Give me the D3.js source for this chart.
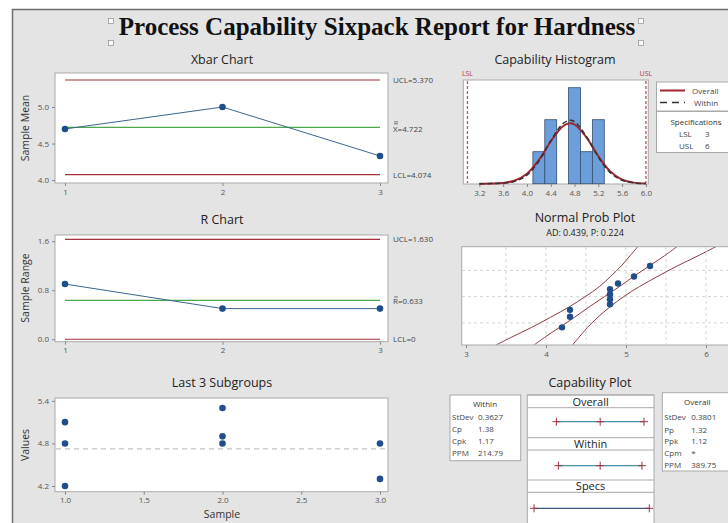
<!DOCTYPE html>
<html>
<head>
<meta charset="utf-8">
<script src="https://cdn.jsdelivr.net/npm/d3@7"></script>
<style>
  body { margin: 0; background: #fff; }
  svg { display: block; font-family: "Open Sans", "Noto Sans", sans-serif; }
</style>
</head>
<body>
<script>
// ---- data ----
const subgroups = [1, 2, 3];
const xbarMeans = [4.70, 5.00, 4.33];
const xbarLimits = { ucl: 5.370, center: 4.722, lcl: 4.074 };
const ranges = [0.90, 0.50, 0.50];
const rLimits = { ucl: 1.630, center: 0.633, lcl: 0 };

const lastSample = [1, 1, 1, 2, 2, 2, 3, 3];
const lastValue  = [4.2, 4.8, 5.1, 4.8, 4.9, 5.3, 4.3, 4.8];

const binStart = [4.1, 4.3, 4.7, 4.9, 5.1];
const binEnd   = [4.3, 4.5, 4.9, 5.1, 5.3];
const binCount = [1, 2, 3, 1, 2];
const curveX       = [3.2, 3.4, 3.6, 3.8, 4.0, 4.2, 4.4, 4.6, 4.72, 4.8, 5.0, 5.2, 5.4, 5.6, 5.8, 6.0];
const overallCurve = [0.00, 0.005, 0.024, 0.10, 0.31, 0.74, 1.32, 1.79, 1.89, 1.85, 1.45, 0.86, 0.385, 0.13, 0.034, 0.007];
const withinCurve  = [0.00, 0.003, 0.017, 0.078, 0.27, 0.70, 1.34, 1.87, 1.98, 1.94, 1.48, 0.83, 0.345, 0.106, 0.024, 0.004];
const specs = { lsl: 3, usl: 6 };

const probValues   = [4.2, 4.3, 4.3, 4.8, 4.8, 4.8, 4.8, 4.9, 5.1, 5.3];
const probPercents = [6.7, 16.3, 26.0, 35.6, 45.2, 54.8, 64.4, 74.0, 83.7, 93.3];
const bandPercents = [0.7, 2.3, 6.7, 15.9, 30.9, 50, 69.1, 84.1, 93.3, 97.7, 99.3];
const bandLower    = [3.33, 3.56, 3.82, 4.06, 4.29, 4.49, 4.67, 4.81, 4.94, 5.05, 5.15];
const bandCenter   = [3.82, 3.98, 4.17, 4.36, 4.54, 4.73, 4.92, 5.10, 5.29, 5.48, 5.64];
const bandUpper    = [4.31, 4.41, 4.52, 4.65, 4.80, 4.97, 5.17, 5.40, 5.64, 5.90, 6.13];
const gridPercents = [10, 50, 90];

const withinLabels  = ["StDev", "Cp", "Cpk", "PPM"];
const withinValues  = ["0.3627", "1.38", "1.17", "214.79"];
const overallLabels = ["StDev", "Pp", "Ppk", "Cpm", "PPM"];
const overallValues = ["0.3801", "1.32", "1.12", "*", "389.75"];
const capNames = ["Overall", "Within", "Specs"];
const capTicks = [[3.582, 4.722, 5.862], [3.634, 4.722, 5.810], [3, 6]];

// ---- page ----
const width = 728, height = 523;
const svg = d3.select("body").append("svg").attr("width", width).attr("height", height);

const BG = "#e4e4e4", FRAME = "#a9a9a9", TXT = "#222", TICK = "#555";
const RED = "#a3303a", GREEN = "#4aa84a", DOT = "#1f4e8d", LINE = "#3a6690";

svg.append("rect").attr("x", 12.5).attr("y", 9.5).attr("width", 740).attr("height", 540)
   .attr("fill", BG).attr("stroke", "#6e6e6e").attr("stroke-width", 1.5);

// title + selection handles
svg.append("text").attr("x", 377).attr("y", 35).attr("text-anchor", "middle")
   .attr("font-family", "'Liberation Serif', 'Times New Roman', serif")
   .attr("font-weight", "bold").attr("font-size", 25).attr("fill", "#111")
   .text("Process Capability Sixpack Report for Hardness");
[[111, 21], [111, 43], [641, 21], [641, 43]].forEach(function (p) {
  svg.append("rect").attr("x", p[0] - 2.5).attr("y", p[1] - 2.5).attr("width", 5).attr("height", 5)
     .attr("fill", "#fafafa").attr("stroke", "#999").attr("stroke-width", 0.8);
});

function frame(x0, y0, x1, y1) {
  svg.append("rect").attr("x", x0).attr("y", y0).attr("width", x1 - x0).attr("height", y1 - y0)
     .attr("fill", "#fff").attr("stroke", FRAME).attr("stroke-width", 1);
}
function title(x, y, t, size) {
  svg.append("text").attr("x", x).attr("y", y).attr("text-anchor", "middle")
     .attr("font-size", size || 12.5).attr("fill", TXT).text(t);
}
function styleAxis(g) {
  g.select(".domain").remove();
  g.selectAll(".tick line").attr("stroke", "#888");
  g.selectAll(".tick text").attr("fill", TICK).attr("font-size", 8)
   .attr("font-family", "'Open Sans', sans-serif");
}
function yLabel(x, y, t) {
  svg.append("text").attr("transform", "translate(" + x + "," + y + ") rotate(-90)")
     .attr("text-anchor", "middle").attr("font-size", 10.5).attr("fill", "#333").text(t);
}
function sideLabel(x, y, t) {
  svg.append("text").attr("x", x).attr("y", y).attr("font-size", 8).attr("fill", "#444").text(t);
}
function bar(x, y, w) {
  svg.append("line").attr("x1", x).attr("x2", x + w).attr("y1", y).attr("y2", y)
     .attr("stroke", "#444").attr("stroke-width", 0.7);
}

// ---- Xbar chart ----
const xs = d3.scaleLinear().domain([1, 3]).range([65, 380]);
const yXbar = d3.scaleLinear().domain([3.96, 5.466]).range([183, 73]);
title(222, 64, "Xbar Chart");
frame(55, 73, 388, 183);
svg.append("g").attr("transform", "translate(55,0)")
   .call(d3.axisLeft(yXbar).tickValues([4.0, 4.5, 5.0]).tickFormat(d3.format(".1f")).tickSize(3)).call(styleAxis);
svg.append("g").attr("transform", "translate(0,183)")
   .call(d3.axisBottom(xs).tickValues(subgroups).tickFormat(d3.format("d")).tickSize(3)).call(styleAxis);
yLabel(29, 128, "Sample Mean");

function controlLines(ys, lim) {
  [["ucl", RED], ["lcl", RED], ["center", GREEN]].forEach(function (k) {
    svg.append("line").attr("x1", xs(1)).attr("x2", xs(3))
       .attr("y1", ys(lim[k[0]])).attr("y2", ys(lim[k[0]]))
       .attr("stroke", k[1]).attr("stroke-width", 1.2);
  });
}
function series(ys, vals) {
  svg.append("path").datum(vals)
     .attr("d", d3.line().x(function (d, i) { return xs(subgroups[i]); }).y(function (d) { return ys(d); }))
     .attr("fill", "none").attr("stroke", LINE).attr("stroke-width", 1);
  svg.selectAll(null).data(vals).enter().append("circle")
     .attr("cx", function (d, i) { return xs(subgroups[i]); }).attr("cy", function (d) { return ys(d); })
     .attr("r", 3.3).attr("fill", DOT);
}
controlLines(yXbar, xbarLimits);
series(yXbar, xbarMeans);
sideLabel(393, yXbar(xbarLimits.ucl) + 3, "UCL=" + xbarLimits.ucl.toFixed(3));
sideLabel(393, yXbar(xbarLimits.center) + 5, "X=" + xbarLimits.center.toFixed(3));
bar(394, yXbar(xbarLimits.center) - 3.5, 4);
bar(394, yXbar(xbarLimits.center) - 5.5, 4);
sideLabel(393, yXbar(xbarLimits.lcl) + 3, "LCL=" + xbarLimits.lcl.toFixed(3));

// ---- R chart ----
const yR = d3.scaleLinear().domain([-0.04, 1.70]).range([341.7, 235]);
title(222, 224, "R Chart");
frame(55, 235, 388, 341.7);
svg.append("g").attr("transform", "translate(55,0)")
   .call(d3.axisLeft(yR).tickValues([0.0, 0.8, 1.6]).tickFormat(d3.format(".1f")).tickSize(3)).call(styleAxis);
svg.append("g").attr("transform", "translate(0,341.7)")
   .call(d3.axisBottom(xs).tickValues(subgroups).tickFormat(d3.format("d")).tickSize(3)).call(styleAxis);
yLabel(29, 288, "Sample Range");
controlLines(yR, rLimits);
series(yR, ranges);
sideLabel(393, yR(rLimits.ucl) + 3, "UCL=" + rLimits.ucl.toFixed(3));
sideLabel(393, yR(rLimits.center) + 4, "R=" + rLimits.center.toFixed(3));
bar(394, yR(rLimits.center) - 3.5, 4);
sideLabel(393, yR(rLimits.lcl) + 3, "LCL=" + rLimits.lcl);

// ---- Last 3 subgroups ----
const xl = d3.scaleLinear().domain([1, 3]).range([65, 380]);
const yl = d3.scaleLinear().domain([4.12, 5.44]).range([491.7, 398]);
title(222, 387, "Last 3 Subgroups");
frame(55, 398, 388, 491.7);
svg.append("g").attr("transform", "translate(55,0)")
   .call(d3.axisLeft(yl).tickValues([4.2, 4.8, 5.4]).tickFormat(d3.format(".1f")).tickSize(3)).call(styleAxis);
svg.append("g").attr("transform", "translate(0,491.7)")
   .call(d3.axisBottom(xl).tickValues([1.0, 1.5, 2.0, 2.5, 3.0]).tickFormat(d3.format(".1f")).tickSize(3)).call(styleAxis);
yLabel(29, 445, "Values");
svg.append("text").attr("x", 222).attr("y", 518).attr("text-anchor", "middle")
   .attr("font-size", 10.5).attr("fill", "#333").text("Sample");
svg.append("line").attr("x1", 56).attr("x2", 387).attr("y1", yl(xbarLimits.center)).attr("y2", yl(xbarLimits.center))
   .attr("stroke", "#c4c4c4").attr("stroke-width", 1.2).attr("stroke-dasharray", "5,4");
svg.selectAll(null).data(lastValue).enter().append("circle")
   .attr("cx", function (d, i) { return xl(lastSample[i]); }).attr("cy", function (d) { return yl(d); })
   .attr("r", 3.3).attr("fill", DOT);

// ---- Capability histogram ----
const hx = d3.scaleLinear().domain([2.93, 6.04]).range([463.3, 648.3]);
const hy = d3.scaleLinear().domain([0, 3]).range([183.7, 87.7]);
title(555, 64, "Capability Histogram");
frame(463.3, 80, 648.3, 184);
svg.append("g").attr("transform", "translate(0,184)")
   .call(d3.axisBottom(hx).tickValues(d3.range(3.2, 6.01, 0.4)).tickFormat(d3.format(".1f")).tickSize(3)).call(styleAxis);
svg.selectAll(null).data(binCount).enter().append("rect")
   .attr("x", function (d, i) { return hx(binStart[i]); })
   .attr("width", function (d, i) { return hx(binEnd[i]) - hx(binStart[i]); })
   .attr("y", function (d) { return hy(d); })
   .attr("height", function (d) { return hy(0) - hy(d); })
   .attr("fill", "#6c9edb").attr("stroke", "#34506f").attr("stroke-width", 0.8);
[["LSL", specs.lsl], ["USL", specs.usl]].forEach(function (s) {
  svg.append("line").attr("x1", hx(s[1])).attr("x2", hx(s[1])).attr("y1", 81).attr("y2", 183)
     .attr("stroke", "#c0505a").attr("stroke-width", 1.3).attr("stroke-dasharray", "3,2");
  svg.append("text").attr("x", hx(s[1])).attr("y", 76).attr("text-anchor", "middle")
     .attr("font-size", 7).attr("fill", "#b03a44").text(s[0]);
});
const curve = d3.line().x(function (d, i) { return hx(curveX[i]); }).y(function (d) { return hy(d); })
                .curve(d3.curveCatmullRom);
svg.append("path").datum(overallCurve).attr("d", curve)
   .attr("fill", "none").attr("stroke", "#a3252f").attr("stroke-width", 2);
svg.append("path").datum(withinCurve).attr("d", curve)
   .attr("fill", "none").attr("stroke", "#333").attr("stroke-width", 1.5).attr("stroke-dasharray", "5,3");

// legend
svg.append("rect").attr("x", 656.5).attr("y", 82).attr("width", 80).attr("height", 29)
   .attr("fill", "#fff").attr("stroke", FRAME);
svg.append("rect").attr("x", 656.5).attr("y", 111.5).attr("width", 80).attr("height", 41)
   .attr("fill", "#fff").attr("stroke", FRAME);
svg.append("line").attr("x1", 660).attr("x2", 685).attr("y1", 90.5).attr("y2", 90.5)
   .attr("stroke", "#a3252f").attr("stroke-width", 2);
svg.append("line").attr("x1", 660).attr("x2", 685).attr("y1", 102.5).attr("y2", 102.5)
   .attr("stroke", "#333").attr("stroke-width", 1.5).attr("stroke-dasharray", "7,5");
sideLabel(692, 93.5, "Overall");
sideLabel(694, 105.5, "Within");
svg.append("text").attr("x", 696).attr("y", 125).attr("text-anchor", "middle")
   .attr("font-size", 8).attr("fill", "#333").text("Specifications");
sideLabel(679, 137, "LSL");
sideLabel(705, 137, String(specs.lsl));
sideLabel(679, 149, "USL");
sideLabel(705, 149, String(specs.usl));

// ---- Normal probability plot ----
function probit(p) { // inverse standard normal CDF (Winitzki approximation)
  const x = 2 * p - 1, a = 0.147, ln = Math.log(1 - x * x);
  const t = 2 / (Math.PI * a) + ln / 2;
  return Math.SQRT2 * Math.sign(x) * Math.sqrt(Math.sqrt(t * t - ln / a) - t);
}
const px = d3.scaleLinear().domain([2.946, 6.4]).range([461.7, 738]);
const pz = d3.scaleLinear().domain([-2.36, 2.44]).range([345, 246.7]);
const py = function (pct) { return pz(probit(pct / 100)); };
title(585, 222, "Normal Prob Plot");
title(585, 236, "AD: 0.439, P: 0.224", 9);
frame(461.7, 246.7, 740, 345);
svg.append("defs").append("clipPath").attr("id", "probclip")
   .append("rect").attr("x", 462).attr("y", 247).attr("width", 280).attr("height", 97.6);
const pg = svg.append("g").attr("clip-path", "url(#probclip)");
pg.selectAll(null).data(d3.range(3.5, 6.6, 0.5)).enter().append("line")
  .attr("x1", function (d) { return px(d); }).attr("x2", function (d) { return px(d); })
  .attr("y1", 247).attr("y2", 345).attr("stroke", "#d4d4d4").attr("stroke-dasharray", "3,3");
pg.selectAll(null).data(gridPercents).enter().append("line")
  .attr("x1", 462).attr("x2", 740).attr("y1", function (d) { return py(d); }).attr("y2", function (d) { return py(d); })
  .attr("stroke", "#d4d4d4").attr("stroke-dasharray", "3,3");
[bandLower, bandCenter, bandUpper].forEach(function (arr) {
  pg.append("path").datum(arr)
    .attr("d", d3.line().x(function (d) { return px(d); }).y(function (d, i) { return py(bandPercents[i]); })
                 .curve(d3.curveCatmullRom))
    .attr("fill", "none").attr("stroke", "#8e3a3f").attr("stroke-width", 1);
});
pg.selectAll(null).data(probValues).enter().append("circle")
  .attr("cx", function (d) { return px(d); }).attr("cy", function (d, i) { return py(probPercents[i]); })
  .attr("r", 3.2).attr("fill", DOT);
svg.append("g").attr("transform", "translate(0,345)")
   .call(d3.axisBottom(px).tickValues([3, 4, 5, 6]).tickFormat(d3.format("d")).tickSize(3)).call(styleAxis);

// ---- Capability plot ----
const cx = d3.scaleLinear().domain([specs.lsl, specs.usl]).range([534, 649.3]);
title(590, 387, "Capability Plot");
svg.append("rect").attr("x", 527.3).attr("y", 395).attr("width", 126.7).attr("height", 140)
   .attr("fill", "#fff").attr("stroke", FRAME);
const headTop = [395, 437.7, 480];
const headBottom = [407.7, 450, 492.3];
const barY = [421.7, 465.7, 508.3];
capNames.forEach(function (name, i) {
  svg.append("line").attr("x1", 527.3).attr("x2", 654).attr("y1", headTop[i]).attr("y2", headTop[i]).attr("stroke", FRAME);
  svg.append("line").attr("x1", 527.3).attr("x2", 654).attr("y1", headBottom[i]).attr("y2", headBottom[i]).attr("stroke", FRAME);
  title(590.6, headBottom[i] - 2, name, 11);
  const t = capTicks[i];
  svg.append("line").attr("x1", cx(t[0])).attr("x2", cx(t[t.length - 1])).attr("y1", barY[i]).attr("y2", barY[i])
     .attr("stroke", i < 2 ? "#4a8fa8" : "#3a5a85").attr("stroke-width", 1.3);
  t.forEach(function (v) {
    svg.append("line").attr("x1", cx(v) - 4).attr("x2", cx(v) + 4).attr("y1", barY[i]).attr("y2", barY[i])
       .attr("stroke", "#a3303a").attr("stroke-width", 1);
    svg.append("line").attr("x1", cx(v)).attr("x2", cx(v)).attr("y1", barY[i] - 4).attr("y2", barY[i] + 4)
       .attr("stroke", "#a3303a").attr("stroke-width", 1);
  });
});

function statTable(x0, y0, w, h, head, labels, values, rowY, valX) {
  svg.append("rect").attr("x", x0).attr("y", y0).attr("width", w).attr("height", h)
     .attr("fill", "#fff").attr("stroke", FRAME);
  svg.append("text").attr("x", x0 + 35).attr("y", y0 + 12).attr("text-anchor", "middle")
     .attr("font-size", 8).attr("fill", "#333").text(head);
  labels.forEach(function (l, i) {
    sideLabel(x0 + 2, rowY[i], l);
    sideLabel(x0 + valX, rowY[i], values[i]);
  });
}
statTable(450, 395, 70.7, 65.7, "Within", withinLabels, withinValues, [419.5, 432, 443.5, 456], 28);
statTable(662.3, 392.7, 80, 78.3, "Overall", overallLabels, overallValues, [420, 432.5, 444, 455.5, 468], 29);
</script>
</body>
</html>
